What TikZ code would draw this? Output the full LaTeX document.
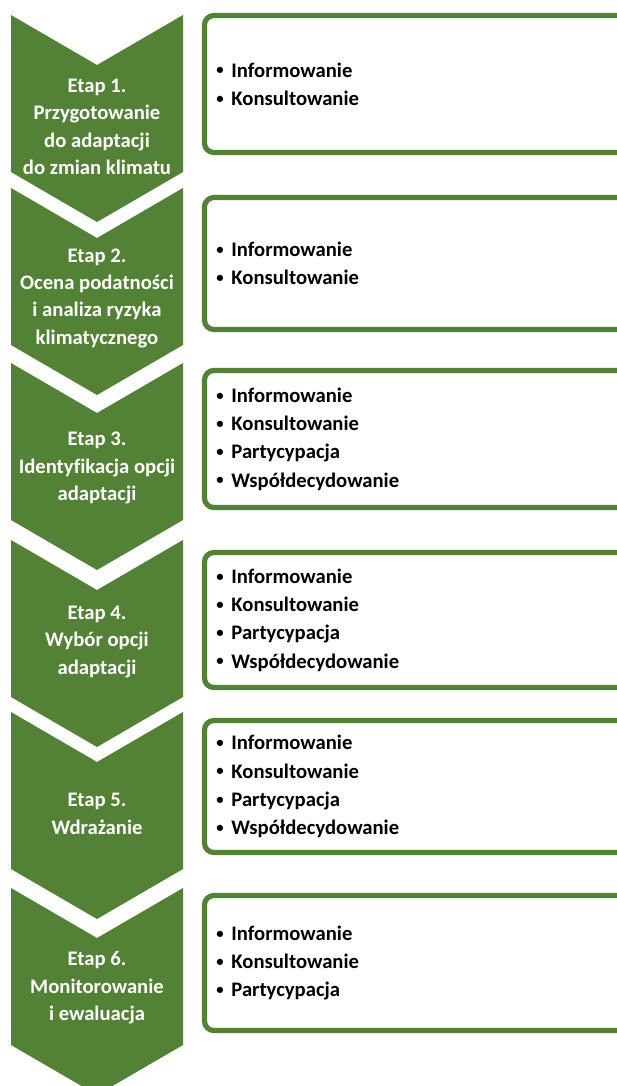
\documentclass[tikz,border=0pt]{standalone}
\usepackage{fontspec}
\setmainfont{Carlito}[Ligatures={NoCommon}]
\usepackage{tikz}

\definecolor{etapgreen}{RGB}{83,129,53}
\newcommand{\punkt}{\raisebox{0.1em}{\fontsize{11}{11}\selectfont•}\hspace{0.38em}}

\begin{document}
\begin{tikzpicture}[x=0.75pt, y=-0.75pt,
  chevron/.style={fill=etapgreen},
  frame/.style={draw=etapgreen, line width=3.9pt, rounded corners=7pt},
  etap/.style={text=white, align=center, font=\bfseries\fontsize{15.5}{20.5}\selectfont, inner sep=0pt},
  items/.style={anchor=west, align=left, font=\bfseries\fontsize{15.5}{21.2}\selectfont, inner sep=0pt}]
  \useasboundingbox (0,0) rectangle (617,1086);

  % Chevrons for the stages
  \fill[chevron] (11,15) -- ++(86,50) -- ++(86,-50) -- ++(0,157) -- ++(-86,50) -- ++(-86,-50) -- cycle;
  \fill[chevron] (11,188) -- ++(86,50) -- ++(86,-50) -- ++(0,157) -- ++(-86,50) -- ++(-86,-50) -- cycle;
  \fill[chevron] (11,363) -- ++(86,50) -- ++(86,-50) -- ++(0,157) -- ++(-86,50) -- ++(-86,-50) -- cycle;
  \fill[chevron] (11,540) -- ++(86,50) -- ++(86,-50) -- ++(0,157) -- ++(-86,50) -- ++(-86,-50) -- cycle;
  \fill[chevron] (11,712) -- ++(86,50) -- ++(86,-50) -- ++(0,157) -- ++(-86,50) -- ++(-86,-50) -- cycle;
  \fill[chevron] (11,888) -- ++(86,50) -- ++(86,-50) -- ++(0,157) -- ++(-86,50) -- ++(-86,-50) -- cycle;

  % Stage names
  \node[etap] (E1) at (97,127) {Etap 1.\\Przygotowanie\\do adaptacji\\do zmian klimatu};
  \node[etap] (E2) at (97,298) {Etap 2.\\Ocena podatności\\i analiza ryzyka\\klimatycznego};
  \node[etap] (E3) at (97,468) {Etap 3.\\Identyfikacja opcji\\adaptacji};
  \node[etap] (E4) at (97,642) {Etap 4.\\Wybór opcji\\adaptacji};
  \node[etap] (E5) at (97,814) {Etap 5.\\Wdrażanie};
  \node[etap] (E6) at (97,988) {Etap 6.\\Monitorowanie\\i ewaluacja};

  % Frames for the forms of participation
  \draw[frame] (204.5,15.5) rectangle (680,152.5);
  \draw[frame] (204.5,197.5) rectangle (680,329.5);
  \draw[frame] (204.5,370.5) rectangle (680,507.5);
  \draw[frame] (204.5,552.5) rectangle (680,687.5);
  \draw[frame] (204.5,720.5) rectangle (680,852.5);
  \draw[frame] (204.5,895.5) rectangle (680,1030.5);

  % Forms in each frame
  \node[items] (F1) at (216,84) {\punkt Informowanie\\\punkt Konsultowanie};
  \node[items] (F2) at (216,263.5) {\punkt Informowanie\\\punkt Konsultowanie};
  \node[items] (F3) at (216,439) {\punkt Informowanie\\\punkt Konsultowanie\\\punkt Partycypacja\\\punkt Współdecydowanie};
  \node[items] (F4) at (216,620) {\punkt Informowanie\\\punkt Konsultowanie\\\punkt Partycypacja\\\punkt Współdecydowanie};
  \node[items] (F5) at (216,786.5) {\punkt Informowanie\\\punkt Konsultowanie\\\punkt Partycypacja\\\punkt Współdecydowanie};
  \node[items] (F6) at (216,963) {\punkt Informowanie\\\punkt Konsultowanie\\\punkt Partycypacja};
\end{tikzpicture}
\end{document}
